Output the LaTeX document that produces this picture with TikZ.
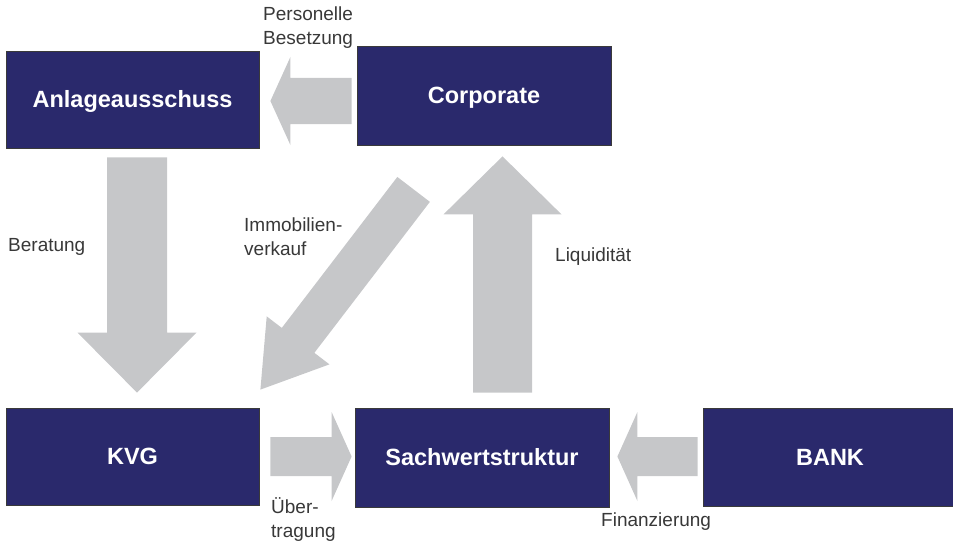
\documentclass[tikz,border=0pt]{standalone}
\usepackage{fontspec}
\setmainfont{Liberation Sans}
\usetikzlibrary{calc}
\definecolor{boxnavy}{HTML}{2A296C}
\definecolor{boxedge}{HTML}{3A3A3A}
\definecolor{arrowgray}{HTML}{C6C7C9}
\definecolor{labelgray}{HTML}{383838}

% block arrow: start, tip, half shaft, half head, head length
\newcommand{\flowarrow}[5]{%
  \coordinate (fa-h) at ($(#2)!#5!(#1)$);
  \fill[arrowgray] ($(#1)!#3!90:(#2)$) -- ($(fa-h)!#3!90:(#2)$) -- ($(fa-h)!#4!90:(#2)$) -- (#2)
    -- ($(fa-h)!#4!-90:(#2)$) -- ($(fa-h)!#3!-90:(#2)$) -- ($(#1)!#3!-90:(#2)$) -- cycle;
}

\begin{document}
\begin{tikzpicture}[x=1pt, y=-1pt,
  entity/.style={rectangle, draw=boxedge, line width=0.8pt, fill=boxnavy, text=white, minimum width=253pt, minimum height=97pt, inner sep=0pt, text height=16.8pt, text depth=0pt, font=\fontsize{23.5}{28}\selectfont\bfseries},
  flowlabel/.style={anchor=west, align=left, text=labelgray, inner sep=0pt, font=\fontsize{19}{24}\selectfont},
]
\useasboundingbox (0,0) rectangle (953,543);
\node[entity] (anl) at (132.5,99.5) {Anlageausschuss};
\node[entity, minimum width=254pt, minimum height=99pt] (corp) at (484,95.5) {Corporate};
\node[entity] (kvg) at (132.5,456.5) {KVG};
\node[entity, minimum width=254pt, minimum height=99pt] (sws) at (482,457.5) {Sachwertstruktur};
\node[entity, minimum width=254pt, minimum height=98pt] (bank) at (830,457) {BANK};
\node[flowlabel] (l-pers) at (263,28) {Personelle\\Besetzung};
\node[flowlabel] (l-ber) at (8,247) {Beratung};
\node[flowlabel] (l-imm) at (244,237) {Immobilien-\\verkauf};
\node[flowlabel] (l-liq) at (555,257) {Liquidität};
\node[flowlabel] (l-ueb) at (271,520) {Über-\\tragung};
\node[flowlabel] (l-fin) at (601,522) {Finanzierung};
% arrows
\coordinate (pb-s) at ($(corp.west)+(-5,5.5)$);
\coordinate (pb-t) at ($(anl.east)+(11,1.5)$);
\flowarrow{pb-s}{pb-t}{23pt}{44pt}{20pt}
\coordinate (be-s) at ($(anl.south)+(4.5,9)$);
\coordinate (be-t) at ($(kvg.north)+(4.5,-15)$);
\flowarrow{be-s}{be-t}{30pt}{59.5pt}{60pt}
\coordinate (im-s) at ($(corp.south west)+(57,44)$);
\coordinate (im-t) at ($(kvg.north east)+(1,-18)$);
\flowarrow{im-s}{im-t}{20.5pt}{39.5pt}{62pt}
\coordinate (li-s) at ($(sws.north)+(20.5,-15)$);
\coordinate (li-t) at ($(corp.south)+(18.5,11)$);
\flowarrow{li-s}{li-t}{29.5pt}{59pt}{58pt}
\coordinate (ue-s) at ($(kvg.east)+(11,0)$);
\coordinate (ue-t) at ($(sws.west)+(-3,-1)$);
\flowarrow{ue-s}{ue-t}{19.5pt}{44.5pt}{20pt}
\coordinate (fi-s) at ($(bank.west)+(-5,-0.5)$);
\coordinate (fi-t) at ($(sws.east)+(8,-1)$);
\flowarrow{fi-s}{fi-t}{19.5pt}{44.5pt}{20pt}
\end{tikzpicture}
\end{document}
